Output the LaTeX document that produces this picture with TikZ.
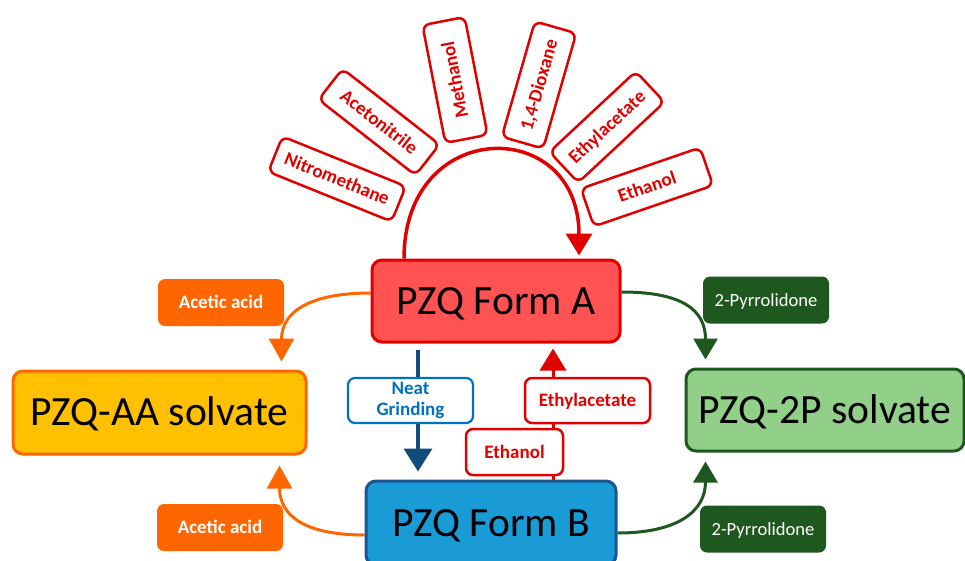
\documentclass[tikz,border=0pt]{standalone}
\usepackage{fontspec}
\setmainfont{Carlito}
\usetikzlibrary{arrows.meta}
\pgfdeclarelayer{bg}
\pgfsetlayers{bg,main}
\definecolor{cred}{RGB}{225,0,0}
\definecolor{cAfill}{RGB}{255,82,82}
\definecolor{cBfill}{RGB}{26,155,214}
\definecolor{cBdraw}{RGB}{28,86,146}
\definecolor{cnavy}{RGB}{15,77,125}
\definecolor{cng}{RGB}{0,112,192}
\definecolor{cyel}{RGB}{255,192,0}
\definecolor{corg}{RGB}{255,102,0}
\definecolor{clgreen}{RGB}{146,208,138}
\definecolor{cdgreen}{RGB}{30,88,30}
\begin{document}
\begin{tikzpicture}[x=1pt,y=-1pt,
  bigbox/.style={rounded corners=10pt, line width=3pt, inner sep=0pt,
    font=\fontsize{41.6}{42}\selectfont, text height=26.5pt, text depth=0pt},
  solv/.style={draw=cred, line width=2.5pt, fill=white, rounded corners=7pt,
    text=cred, font=\bfseries\fontsize{19}{21}\selectfont, inner sep=0pt,
    text height=12.2pt, text depth=0pt},
  tagbox/.style={rounded corners=7pt, inner sep=0pt, text=white,
    minimum width=126pt, minimum height=47pt, text height=12pt, text depth=0pt},
  conn/.style={line width=3pt},
]
\useasboundingbox (0,0) rectangle (965,560);
\clip (0,0) rectangle (965,560);

% main boxes
\node[bigbox, draw=cred, fill=cAfill, minimum width=248pt, minimum height=82pt] (A) at (496,301) {PZQ Form A};
\node[bigbox, draw=cBdraw, fill=cBfill, minimum width=250pt, minimum height=84pt] (B) at (491,523) {PZQ Form B};
\node[bigbox, draw=corg, fill=cyel, minimum width=293pt, minimum height=83pt] (AA) at (159.5,412.5) {PZQ-AA solvate};
\node[bigbox, draw=cdgreen, fill=clgreen, minimum width=278pt, minimum height=82pt] (P) at (825,410) {PZQ-2P solvate};

% tags
\node[tagbox, fill=corg, font=\bfseries\fontsize{19}{21}\selectfont] (aa1) at (221,302.5) {Acetic acid};
\node[tagbox, fill=corg, font=\bfseries\fontsize{19}{21}\selectfont] (aa2) at (220,527.5) {Acetic acid};
\node[tagbox, fill=cdgreen, font=\fontsize{18.6}{21}\selectfont] (pp1) at (766,300) {2-Pyrrolidone};
\node[tagbox, fill=cdgreen, font=\fontsize{18.6}{21}\selectfont] (pp2) at (763,529) {2-Pyrrolidone};

% middle labels
\node[draw=cng, line width=2.2pt, fill=white, rounded corners=7pt, text=cng,
  font=\bfseries\fontsize{19}{21}\selectfont, align=center, inner sep=0pt,
  minimum width=125pt, minimum height=45pt] (ng) at (410.5,400.5) {Neat\\Grinding};
\node[solv, minimum width=125pt, minimum height=45pt] (ea) at (587.5,400.5) {Ethylacetate};
\node[solv, minimum width=97pt, minimum height=46pt] (et) at (514.5,452) {Ethanol};

% top solvents
\node[solv, rotate=-22, minimum width=133pt, minimum height=38pt] (s1) at (337,179) {Nitromethane};
\node[solv, rotate=-38, minimum width=123pt, minimum height=39pt] (s2) at (379,122) {Acetonitrile};
\node[solv, rotate=101, minimum width=120pt, minimum height=43pt] (s3) at (455,80) {Methanol};
\node[solv, rotate=74, minimum width=120pt, minimum height=43pt] (s4) at (539,85) {1,4-Dioxane};
\node[solv, rotate=43, minimum width=118pt, minimum height=42pt] (s5) at (607,127) {Ethylacetate};
\node[solv, rotate=19, minimum width=126pt, minimum height=40pt] (s6) at (647,187) {Ethanol};

\begin{pgfonlayer}{bg}
\draw[conn, cred, line width=3.5pt, -{Triangle[width=26pt,length=22pt]}]
  ([xshift=-92pt]A.north) .. controls +(0,-142) and +(0,-140) .. ([xshift=83pt,yshift=3pt]A.north);
\draw[conn, corg, -{Triangle[width=25pt,length=23pt]}]
  ([yshift=8pt]A.west) .. controls +(-60,0) and +(0,-50) .. ([xshift=-26pt,yshift=8pt]AA.north east);
\draw[conn, corg, -{Triangle[width=25pt,length=23pt]}]
  ([yshift=-12pt]B.west) .. controls +(-60,0) and +(0,50) .. ([xshift=-28pt,yshift=-10pt]AA.south east);
\draw[conn, cdgreen, -{Triangle[width=24pt,length=21pt]}]
  ([yshift=9pt]A.east) .. controls +(60,0) and +(0,-50) .. ([xshift=21pt,yshift=8pt]P.north west);
\draw[conn, cdgreen, -{Triangle[width=24pt,length=21pt]}]
  ([yshift=-10pt]B.east) .. controls +(60,0) and +(0,50) .. ([xshift=21pt,yshift=-9pt]P.south west);
\draw[conn, cnavy, line width=3.5pt, -{Triangle[width=28pt,length=23pt]}]
  ([xshift=-78pt,yshift=-6pt]A.south) -- ([xshift=-73pt,yshift=8pt]B.north);
\draw[conn, cred, -{Triangle[width=26pt,length=22pt]}]
  ([xshift=62pt]B.north) -- ([xshift=57pt,yshift=-5pt]A.south);
\end{pgfonlayer}
\end{tikzpicture}
\end{document}
